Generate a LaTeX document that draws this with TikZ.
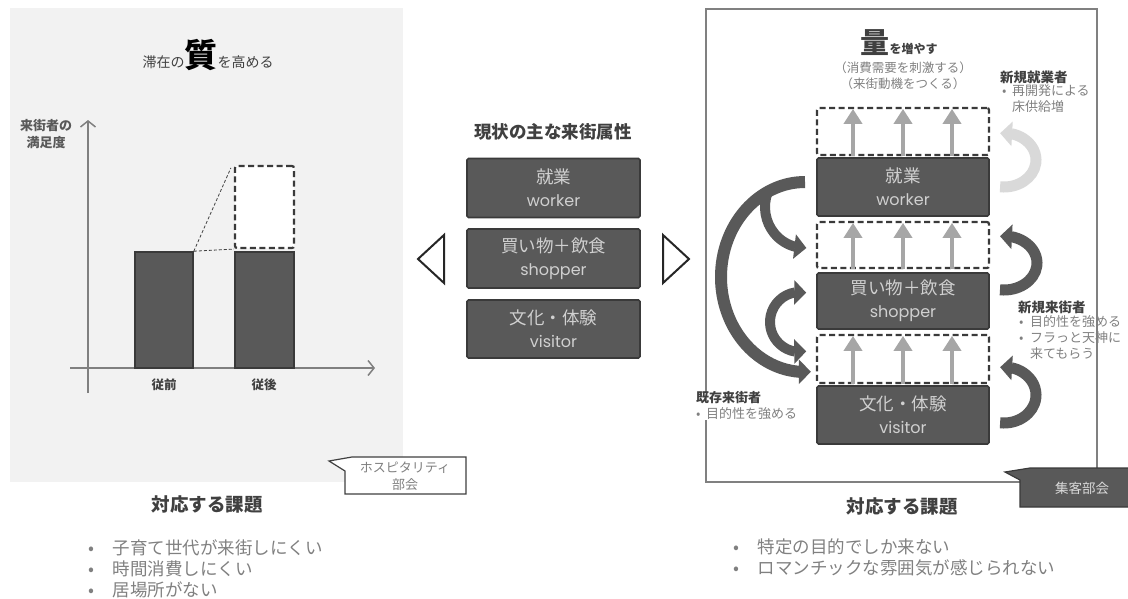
\documentclass[tikz,border=0pt]{standalone}
\usepackage{fontspec}
\setmainfont{Noto Sans CJK JP}
\newfontfamily\popfont{Poppins}
\usetikzlibrary{arrows.meta,bending,calc}
\definecolor{dk}{HTML}{595959}
\definecolor{bd}{HTML}{3A3A3A}
\definecolor{tg}{HTML}{808080}
\definecolor{hg}{HTML}{404040}
\definecolor{lt}{HTML}{D9D9D9}
\definecolor{ag}{HTML}{A6A6A6}
\definecolor{bgc}{HTML}{F2F2F2}
\definecolor{bxt}{HTML}{D0D0D0}
\newcommand\myfs[2]{\fontsize{#1}{#2}\selectfont}
\begin{document}
\begin{tikzpicture}[x=1pt,y=1pt,
  txt/.style={inner sep=0pt, outer sep=0pt},
  heading/.style={txt, font=\bfseries\myfs{18.5}{20}, text=hg},
  bul/.style={txt, anchor=west, font=\myfs{17.5}{20}, text=tg},
  darkbox/.style={draw=bd, fill=dk, line width=1.6pt, rounded corners=1.5pt, text=bxt, align=center, inner sep=0pt, font=\myfs{17.5}{23}},
  dashbox/.style={draw=bd, fill=white, line width=2.2pt, dash pattern=on 6pt off 3.5pt, rounded corners=2pt, inner sep=0pt},
  bar/.style={draw=bd, fill=dk, line width=1.6pt, inner sep=0pt},
  uparr/.style={draw=ag, line width=4pt, -{Triangle[width=18pt,length=15pt]}},
  thickarc/.style={draw=dk, line width=11pt, -{Triangle[width=24pt,length=12pt]}},
  axisline/.style={draw=tg, line width=1.5pt, -{Straight Barb[width=15pt,length=6pt]}},
  thindash/.style={draw=hg, line width=0.8pt, dash pattern=on 3pt off 2pt},
  smalltxt/.style={txt, font=\myfs{13}{16}, text=tg},
  smallhead/.style={txt, font=\bfseries\myfs{13.5}{16}, text=hg},
]
\useasboundingbox (0,0) rectangle (1128,-598);

% ---------------- left panel ----------------
\fill[bgc] (10,-8) rectangle (403,-482);
\node[txt, anchor=base, text=hg] (lt1) at (208,-67)
  {\myfs{14}{14}滞在の{\bfseries\color{black}\myfs{33}{33}質}\myfs{14}{14}を高める};

\node[txt, align=center, font=\bfseries\myfs{13}{17}, text=dk] (ylab) at (46,-134) {来街者の\\満足度};
\coordinate (yb) at (88,-393);
\coordinate (yt) at (88,-120);
\coordinate (xl) at (70,-368);
\coordinate (xr) at (375,-368);
\draw[axisline] (yb) -- (yt);
\draw[axisline] (xl) -- (xr);

\node[bar, minimum width=58pt, minimum height=116pt] (b1) at (164,-310) {};
\node[bar, minimum width=59pt, minimum height=116pt] (b2) at (264.5,-310) {};
\node[dashbox, minimum width=59pt, minimum height=82pt] (b2d) at (264.5,-207) {};
\draw[thindash] (b1.north east) -- ([xshift=-3pt,yshift=-3pt]b2d.north west);
\draw[thindash] (b1.north east) -- (b2d.south west);

\node[txt, font=\bfseries\myfs{12.5}{14}, text=hg] (l1) at (164,-385) {従前};
\node[txt, font=\bfseries\myfs{12.5}{14}, text=hg] (l2) at (264,-385) {従後};

\draw[draw=hg, line width=1.2pt, fill=white] (352,-457) -- (466,-457) -- (466,-494) -- (345,-494) -- (345,-471) -- (329,-461) -- cycle;
\node[txt, align=center, font=\myfs{13}{17}, text=tg] (hosp) at (405,-476) {ホスピタリティ\\部会};

\node[heading] (lh) at (207,-505) {対応する課題};
\node[bul] (lb1) at (88,-548) {\makebox[25pt][l]{•}子育て世代が来街しにくい};
\node[bul] (lb2) at (88,-569) {\makebox[25pt][l]{•}時間消費しにくい};
\node[bul] (lb3) at (88,-590) {\makebox[25pt][l]{•}居場所がない};

% ---------------- middle ----------------
\node[heading, font=\bfseries\myfs{17.5}{20}] (mh) at (553,-132) {現状の主な来街属性};
\node[darkbox, minimum width=173pt, minimum height=59pt] (m1) at (553.5,-188) {就業\\{\popfont\myfs{16}{23}worker}};
\node[darkbox, minimum width=173pt, minimum height=59pt] (m2) at (553.5,-258.5) {買い物＋飲食\\{\popfont\myfs{16}{23}shopper}};
\node[darkbox, minimum width=173pt, minimum height=58pt] (m3) at (553.5,-329) {文化・体験\\{\popfont\myfs{16}{23}visitor}};
\draw[draw=black!85, line width=2pt, fill=white, line join=miter] (444,-235) -- (444,-283) -- (418,-259) -- cycle;
\draw[draw=black!85, line width=2pt, fill=white, line join=miter] (663,-235) -- (663,-283) -- (689,-259) -- cycle;

% ---------------- right panel ----------------
\draw[draw=tg, line width=1.5pt] (706,-9) rectangle (1097,-482);
\node[txt, anchor=base, text=hg] (rt1) at (899,-53)
  {{\bfseries\myfs{29}{29}量}{\bfseries\myfs{12}{12}を増やす}};
\node[txt, align=center, font=\myfs{12.5}{16}, text=tg] (rsub) at (903,-76) {（消費需要を刺激する）\\（来街動機をつくる）};

\node[smallhead, anchor=west] (nw) at (1000,-77) {新規就業者};
\node[smalltxt, anchor=west] (nw1) at (1002,-91) {\makebox[10pt][l]{•}再開発による};
\node[smalltxt, anchor=west] (nw2) at (1012,-107) {床供給増};

\node[dashbox, minimum width=172pt, minimum height=47pt] (d1) at (903,-131.5) {};
\node[darkbox, minimum width=172pt, minimum height=58pt] (w) at (903,-187) {就業\\{\popfont\myfs{16}{23}worker}};
\node[dashbox, minimum width=172pt, minimum height=46pt] (d2) at (903,-245) {};
\node[darkbox, minimum width=172pt, minimum height=56pt] (s) at (903,-301) {買い物＋飲食\\{\popfont\myfs{16}{23}shopper}};
\node[dashbox, minimum width=172pt, minimum height=48pt] (d3) at (903,-359) {};
\node[darkbox, minimum width=172pt, minimum height=58pt] (v) at (903,-415) {文化・体験\\{\popfont\myfs{16}{23}visitor}};

\foreach \dd in {d1,d2,d3}{
  \foreach \xo in {-50,0,49}{
    \draw[uparr] ([xshift=\xo pt]\dd.south) -- ([xshift=\xo pt,yshift=-2pt]\dd.north);
  }
}

% right U-turn arrows
\coordinate (cA) at (1004,-160);
\draw[thickarc, draw=lt] ($(cA)+(-97:32pt and 27pt)$) arc[start angle=-97, end angle=97, x radius=32pt, y radius=27pt];
\coordinate (cB) at (1004,-263);
\draw[thickarc] ($(cB)+(-97:33pt and 27pt)$) arc[start angle=-97, end angle=97, x radius=33pt, y radius=27pt];
\coordinate (cC) at (1004,-395);
\draw[thickarc] ($(cC)+(-97:32pt and 28pt)$) arc[start angle=-97, end angle=97, x radius=32pt, y radius=28pt];

% left arrows
\coordinate (cL) at (805,-277);
\draw[thickarc, line width=12pt] ($(cL)+(90:84pt and 95pt)$) arc[start angle=90, end angle=274, x radius=84pt, y radius=95pt];
\coordinate (cS1) at (805,-207);
\draw[thickarc, line width=10pt] ($(cS1)+(160:40pt and 41pt)$) arc[start angle=160, end angle=272, x radius=40pt, y radius=41pt];
\coordinate (cS2) at (800,-322);
\draw[thickarc, line width=10pt, {Triangle[width=24pt,length=12pt]}-{Triangle[width=24pt,length=12pt]}] ($(cS2)+(78:30pt and 30pt)$) arc[start angle=78, end angle=282, x radius=30pt, y radius=30pt];

\node[smallhead, anchor=west] (nv) at (1018,-307) {新規来街者};
\node[smalltxt, anchor=west] (nv1) at (1019,-322) {\makebox[11pt][l]{•}目的性を強める};
\node[smalltxt, anchor=west] (nv2) at (1019,-338) {\makebox[11pt][l]{•}フラっと天神に};
\node[smalltxt, anchor=west] (nv3) at (1030,-354) {来てもらう};

\node[txt, anchor=west, fill=white, align=left, font=\myfs{13}{16}, text=tg] (ex) at (696,-406)
  {{\bfseries\color{hg}既存来街者}\\\makebox[10pt][l]{•}目的性を強める};

% callout dark
\draw[draw=bd, line width=1.2pt, fill=dk] (1030,-468) -- (1130,-468) -- (1130,-507) -- (1020,-507) -- (1020,-480) -- (1005,-472) -- cycle;
\node[txt, font=\myfs{13.5}{16}, text=lt] (shk) at (1082,-488) {集客部会};

\node[heading] (rh) at (902,-507) {対応する課題};
\node[bul] (rb1) at (733,-547) {\makebox[25pt][l]{•}特定の目的でしか来ない};
\node[bul] (rb2) at (733,-568) {\makebox[25pt][l]{•}ロマンチックな雰囲気が感じられない};
\end{tikzpicture}
\end{document}
